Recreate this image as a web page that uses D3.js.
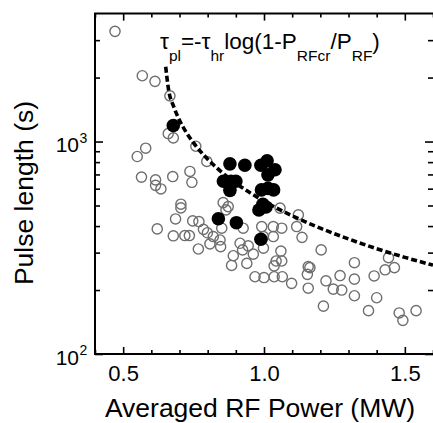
<!DOCTYPE html>
<html><head><meta charset="utf-8">
<script src="https://cdn.jsdelivr.net/npm/d3@7"></script>
<style>html,body{margin:0;padding:0;background:#fff;}svg{display:block;font-family:"Liberation Sans",Arial,sans-serif;}</style>
</head><body>
<svg id="c" width="433" height="423"></svg>
<script>
// Open circles: averaged RF power (MW) and pulse length (s)
const openP = [0.471,0.568,0.613,0.666,0.660,0.678,0.758,0.797,0.550,0.580,0.565,0.615,0.615,0.634,0.676,0.737,0.744,0.705,0.705,0.686,0.621,0.678,0.719,0.735,0.747,0.769,0.785,0.799,0.767,0.808,0.855,0.873,0.865,0.820,0.850,0.844,0.926,0.992,1.033,1.063,0.998,1.033,1.057,1.122,1.116,1.135,0.915,0.944,0.846,0.891,0.885,0.924,0.962,0.939,0.998,1.060,1.043,1.036,1.063,0.968,1.000,1.036,1.065,1.098,1.157,1.157,1.203,1.163,1.154,1.220,1.246,1.270,1.276,1.321,1.321,1.321,1.211,1.391,1.400,1.371,1.430,1.442,1.463,1.480,1.493,1.540];
const openT = [3300,2040,1920,1640,1090,1040,950,806,850,930,680,660,622,598,684,723,643,507,487,432,388,360,361,361,423,420,386,372,312,330,516,494,477,357,391,344,391,398,398,391,357,357,486,452,398,354,332,323,320,290,261,309,295,267,315,305,274,260,274,231,229,231,231,215,258,204,309,255,237,221,202,234,200,269,225,188,168,233,184,160,249,284,255,156,144,160];
// Filled circles
const filledP = [0.678,0.879,0.932,0.989,1.011,1.039,1.014,0.856,0.883,0.900,0.879,0.991,1.014,1.034,0.996,0.982,1.007,0.838,0.902,0.989];
const filledT = [1190,785,773,773,811,736,697,650,650,650,589,592,602,592,506,476,492,433,415,347];
// Dashed curve
const curveP = [0.651,0.66,0.68,0.70,0.75,0.80,0.85,0.90,1.0,1.1,1.2,1.3,1.4,1.5,1.6];
const curveT = [2250,1794,1453,1260,985,826,717,637,524,447,391,348,313,285,262];
// Ticks
const xMajor = [0.5,1.0,1.5];
const xMinor = [0.4,0.6,0.7,0.8,0.9,1.1,1.2,1.3,1.4,1.6];
const yMajor = [100,1000];
const yMajorExp = ["2","3"];
const yMinor = [200,300,400,500,600,700,800,900,2000,3000];

const svg = d3.select("#c");
const L=95, R=433, T=13.6, B=354;
const x = d3.scaleLinear().domain([0.4,1.6]).range([L,R]);
const y = d3.scaleLog().domain([100,4000]).range([B,T]);

// open circles
svg.append("g").selectAll("circle").data(openP.map((p,i)=>[p,openT[i]])).join("circle")
  .attr("cx",d=>x(d[0])).attr("cy",d=>y(d[1])).attr("r",5.1)
  .attr("fill","none").attr("stroke","#6e6e6e").attr("stroke-width",1.4);

// curve
const line = d3.line().x(d=>x(d[0])).y(d=>y(d[1])).curve(d3.curveMonotoneX);
svg.append("path").datum(curveP.map((p,i)=>[p,curveT[i]]))
  .attr("d",line).attr("fill","none").attr("stroke","#000")
  .attr("stroke-width",3.6).attr("stroke-dasharray","6,3");

// filled circles
svg.append("g").selectAll("circle").data(filledP.map((p,i)=>[p,filledT[i]])).join("circle")
  .attr("cx",d=>x(d[0])).attr("cy",d=>y(d[1])).attr("r",6.8).attr("fill","#000");

// frame
svg.append("path").attr("d",`M${R+3},${T}H${L}V${B}H${R+3}`).attr("fill","none").attr("stroke","#000").attr("stroke-width",2);

// axes via d3 axes (inward ticks)
const tk = (g)=>g.call(s=>s.select(".domain").remove()).call(s=>s.selectAll("line").attr("stroke","#000").attr("stroke-width",1.6));
svg.append("g").attr("transform",`translate(0,${B})`).call(d3.axisBottom(x).tickValues(xMajor).tickSize(-7).tickFormat(d3.format(".1f")))
  .call(tk).call(g=>g.selectAll("text").attr("dy",null).attr("y",27).attr("font-size",22).attr("font-family","Liberation Sans, Arial, sans-serif").attr("fill","#000"));
svg.append("g").attr("transform",`translate(0,${B})`).call(d3.axisBottom(x).tickValues(xMinor).tickSize(-4).tickFormat("")).call(tk);
svg.append("g").attr("transform",`translate(0,${T})`).call(d3.axisTop(x).tickValues(xMajor).tickSize(-7).tickFormat("")).call(tk);
svg.append("g").attr("transform",`translate(0,${T})`).call(d3.axisTop(x).tickValues(xMinor).tickSize(-4).tickFormat("")).call(tk);
svg.append("g").attr("transform",`translate(${L},0)`).call(d3.axisLeft(y).tickValues(yMajor).tickSize(-8).tickFormat("")).call(tk);
svg.append("g").attr("transform",`translate(${L},0)`).call(d3.axisLeft(y).tickValues(yMinor).tickSize(-5).tickFormat("")).call(tk);
svg.append("g").attr("transform",`translate(${R},0)`).call(d3.axisRight(y).tickValues(yMajor).tickSize(-8).tickFormat("")).call(tk);
svg.append("g").attr("transform",`translate(${R},0)`).call(d3.axisRight(y).tickValues(yMinor).tickSize(-5).tickFormat("")).call(tk);

// y labels 10^n
yMajor.forEach((v,i)=>{
  const t = svg.append("text").attr("x",79).attr("y",y(v)+10.5).attr("text-anchor","end").attr("font-size",21).attr("fill","#000");
  t.text("10");
  svg.append("text").attr("x",79.5).attr("y",y(v)+1).attr("font-size",14).attr("fill","#000").text(yMajorExp[i]);
});

// axis titles
svg.append("text").attr("x",260).attr("y",417).attr("text-anchor","middle").attr("font-size",26.5).attr("fill","#000").text("Averaged RF Power (MW)");
svg.append("text").attr("transform","translate(33,193) rotate(-90)").attr("text-anchor","middle").attr("font-size",26.5).attr("fill","#000").text("Pulse length (s)");

// formula
const f = svg.append("text").attr("x",160).attr("y",49).attr("font-size",22.5).attr("fill","#000");
const parts = [["τ",0],["pl",1],["=-τ",0],["hr",1],["log(1-P",0],["RFcr",1],["/P",0],["RF",1],[")",0]];
parts.forEach(([s,sub])=>{
  f.append("tspan").attr("y", sub?61:49).attr("font-size", sub?15.5:22.5).text(s);
});
</script>
</body></html>
